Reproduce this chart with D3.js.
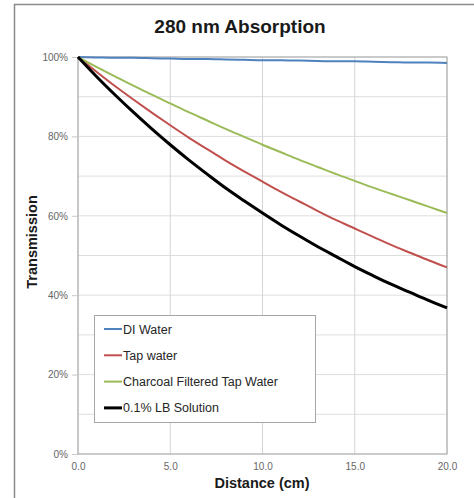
<!DOCTYPE html>
<html>
<head>
<meta charset="utf-8">
<script src="https://cdn.jsdelivr.net/npm/d3@7"></script>
<style>
  body { margin: 0; background: #fff; }
  svg { display: block; font-family: "Liberation Sans", Arial, sans-serif; }
</style>
</head>
<body>
<svg id="chart"></svg>
<script>
// distances in cm (0..20, 1 cm steps)
const distance = [0,1,2,3,4,5,6,7,8,9,10,11,12,13,14,15,16,17,18,19,20];
// transmission in %
const diWater = [100,99.9,99.8,99.8,99.7,99.6,99.5,99.5,99.4,99.3,99.2,99.2,99.1,99.0,98.9,98.9,98.8,98.7,98.6,98.6,98.5];
const tapWater = [100,96.3,92.7,89.3,86.0,82.8,79.7,76.8,73.9,71.2,68.6,66.0,63.6,61.2,58.9,56.8,54.7,52.6,50.7,48.8,47.0];
const charcoal = [100,97.5,95.1,92.8,90.5,88.3,86.1,84.0,81.9,79.9,77.9,76.0,74.1,72.3,70.5,68.8,67.1,65.5,63.9,62.3,60.7];
const lbSolution = [100,95.1,90.5,86.1,81.9,77.9,74.1,70.5,67.0,63.8,60.7,57.7,54.9,52.2,49.7,47.2,44.9,42.7,40.7,38.7,36.8];

const seriesNames = ["DI Water", "Tap water", "Charcoal Filtered Tap Water", "0.1% LB Solution"];
const seriesValues = [diWater, tapWater, charcoal, lbSolution];
const seriesColors = ["#4f81bd", "#c0504d", "#9bbb59", "#000000"];
const seriesWidths = [2, 2, 2, 3];

const xTicks = [0, 5, 10, 15, 20];
const yTicks = [0, 20, 40, 60, 80, 100];
const yMinor = [10, 30, 50, 70, 90];

const w = 474, h = 498;
const svg = d3.select("#chart").attr("width", w).attr("height", h);

// outer frame (only top and left edges show in the picture)
svg.append("path")
  .attr("d", "M14.5,498 L14.5,4.5 L474,4.5")
  .attr("fill", "none").attr("stroke", "#8c8c8c").attr("stroke-width", 1.5);

const x = d3.scaleLinear().domain([0, 20]).range([78, 447]);
const y = d3.scaleLinear().domain([0, 100]).range([454, 57]);

// grid
svg.append("g").selectAll("line").data(yTicks.concat(yMinor)).join("line")
  .attr("x1", x(0)).attr("x2", x(20))
  .attr("y1", d => y(d)).attr("y2", d => y(d))
  .attr("stroke", "#dedede").attr("stroke-width", 1);
svg.append("g").selectAll("line").data(xTicks).join("line")
  .attr("x1", d => x(d)).attr("x2", d => x(d))
  .attr("y1", y(0)).attr("y2", y(100))
  .attr("stroke", "#d4d4d4").attr("stroke-width", 1);

// plot border
svg.append("rect")
  .attr("x", x(0)).attr("y", y(100))
  .attr("width", x(20) - x(0)).attr("height", y(0) - y(100))
  .attr("fill", "none").attr("stroke", "#a6a6a6").attr("stroke-width", 1);

// axes
const yAxis = d3.axisLeft(y).tickValues(yTicks).tickFormat(d => d + "%").tickSize(6).tickPadding(4);
const gy = svg.append("g").attr("transform", `translate(${x(0)},0)`).call(yAxis);
gy.select(".domain").remove();
gy.selectAll("line").attr("stroke", "#c8c8c8");
gy.selectAll("text").attr("fill", "#666").attr("font-size", 10).style("font-family", "Liberation Sans, Arial, sans-serif");

const xAxis = d3.axisBottom(x).tickValues(xTicks).tickFormat(d3.format(".1f")).tickSize(0).tickPadding(9);
const gx = svg.append("g").attr("transform", `translate(0,${y(0)})`).call(xAxis);
gx.select(".domain").remove();
gx.selectAll("text").attr("fill", "#666").attr("font-size", 10).style("font-family", "Liberation Sans, Arial, sans-serif");

// lines
const line = d3.line().x((d, i) => x(distance[i])).y(d => y(d)).curve(d3.curveMonotoneX);
svg.append("g").selectAll("path").data(seriesValues).join("path")
  .attr("d", line)
  .attr("fill", "none")
  .attr("stroke", (d, i) => seriesColors[i])
  .attr("stroke-width", (d, i) => seriesWidths[i]);

// titles
svg.append("text").attr("x", 240).attr("y", 33).attr("text-anchor", "middle")
  .attr("font-size", 19).attr("font-weight", "bold").attr("fill", "#1a1a1a")
  .text("280 nm Absorption");
svg.append("text").attr("x", 262).attr("y", 488).attr("text-anchor", "middle")
  .attr("font-size", 14.5).attr("font-weight", "bold").attr("fill", "#1a1a1a")
  .text("Distance (cm)");
svg.append("text").attr("transform", "translate(37,242) rotate(-90)").attr("text-anchor", "middle")
  .attr("font-size", 14.5).attr("font-weight", "bold").attr("fill", "#1a1a1a")
  .text("Transmission");

// legend
const lg = svg.append("g");
lg.append("rect").attr("x", 94.5).attr("y", 315.5).attr("width", 221).attr("height", 107)
  .attr("fill", "#fff").attr("stroke", "#a6a6a6");
const items = lg.selectAll("g.item").data(seriesNames).join("g")
  .attr("transform", (d, i) => `translate(104,${329 + i * 26.3})`);
items.append("line").attr("x1", 0).attr("x2", 18).attr("y1", 0).attr("y2", 0)
  .attr("stroke", (d, i) => seriesColors[i]).attr("stroke-width", (d, i) => seriesWidths[i]);
items.append("text").attr("x", 19).attr("y", 4.5).attr("font-size", 12.5).attr("fill", "#262626")
  .text(d => d);
</script>
</body>
</html>
